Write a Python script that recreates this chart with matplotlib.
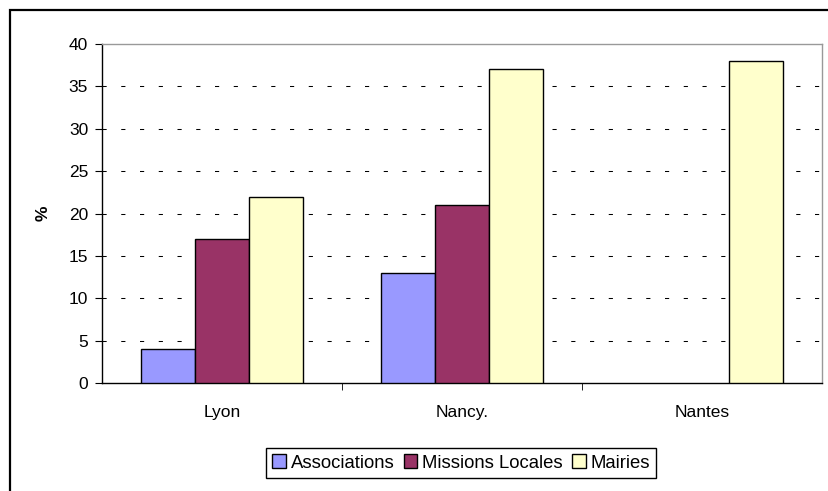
import numpy as np
import matplotlib
matplotlib.use("Agg")
import matplotlib.pyplot as plt
from matplotlib.patches import Rectangle

plt.rcParams['font.family'] = ['Liberation Sans', 'DejaVu Sans']
plt.rcParams['font.size'] = 12.5

# data
villes = ["Lyon", "Nancy.", "Nantes"]
series = ["Associations", "Missions Locales", "Mairies"]
associations = [4, 13, np.nan]
missions = [17, 21, np.nan]
mairies = [22, 37, 38]
couleurs = ["#9999FF", "#993366", "#FFFFCC"]

fig = plt.figure(figsize=(8.29, 4.91), dpi=100)
W, H = 829, 491

# outer chart frame
fig.patches.append(Rectangle((10 / W, -0.1), 1.2, (481 / H) + 0.1, transform=fig.transFigure,
                             fill=False, edgecolor='black', linewidth=1.6))

ax = fig.add_axes([102 / W, (H - 383) / H, 720 / W, 339 / H])

x = np.arange(len(villes))
w = 0.225
for i, (vals, lab, col) in enumerate(zip([associations, missions, mairies], series, couleurs)):
    ax.bar(x + (i - 1) * w, vals, width=w, color=col, edgecolor='black', linewidth=1.0,
           label=lab, zorder=3)

ax.set_xlim(-0.5, 2.5)
ax.set_ylim(0, 40)
ax.set_yticks(np.arange(0, 41, 5))
ax.set_xticks(x)
ax.set_xticklabels(villes)
ax.set_xticks([0.5, 1.5], minor=True)
ax.tick_params(axis='x', which='major', length=0, pad=16)
ax.tick_params(axis='x', which='minor', length=5, direction='out', color='black')
ax.tick_params(axis='y', length=5, direction='out', color='black', pad=5)

for yv in range(5, 40, 5):
    ax.axhline(yv, color='black', linewidth=0.75, linestyle=(0, (4, 14)), zorder=1)

ax.spines['top'].set_color('#999999')
ax.spines['right'].set_color('#999999')
ax.spines['left'].set_color('black')
ax.spines['bottom'].set_color('black')
for s in ax.spines.values():
    s.set_linewidth(1.0)

ax.set_ylabel("%", fontweight='bold', labelpad=13)

leg = ax.legend(loc='center', bbox_to_anchor=(461 / W, (H - 463) / H), bbox_transform=fig.transFigure,
                ncol=3, frameon=True, fancybox=False, edgecolor='black', framealpha=1,
                fontsize=13.3, handlelength=0.75, handleheight=0.75, handletextpad=0.25,
                columnspacing=0.5, borderpad=0.35)
leg.get_frame().set_linewidth(1.0)

fig.savefig("out.png", dpi=100)
